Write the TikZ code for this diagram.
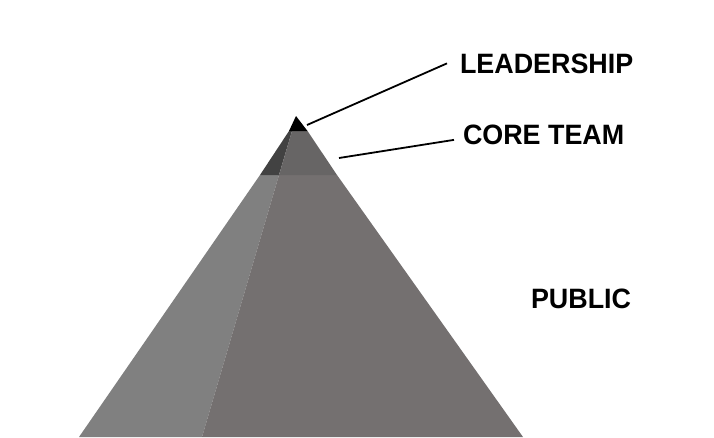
\documentclass[tikz,border=0pt]{standalone}
\usepackage{fontspec}
\setmainfont{Liberation Sans}[FakeStretch=0.96]
\definecolor{publicleft}{HTML}{808080}
\definecolor{publicright}{HTML}{747070}
\definecolor{coreleft}{HTML}{424242}
\definecolor{coreright}{HTML}{676565}
\begin{document}
\begin{tikzpicture}[x=1pt,y=-1pt,
		level/.style={font=\fontsize{28}{30}\selectfont\bfseries, anchor=base west, inner sep=0pt, outer sep=0pt},
		pointer/.style={line width=1.8pt}]
		\useasboundingbox (0,0) rectangle (714,437);
		% Draw the public layer
		\fill[publicleft] (260,175) -- (279,175) -- (202,437) -- (79,437) -- cycle;
		\fill[publicright] (279,175) -- (337,175) -- (523,437) -- (202,437) -- cycle;
		% Draw the core team layer
		\fill[coreleft] (289,131) -- (292,131) -- (279,175) -- (260,175) -- cycle;
		\fill[coreright] (292,131) -- (307.5,131) -- (337,175) -- (279,175) -- cycle;
		% Draw the leadership tip
		\fill[black] (296,116) -- (307.5,131) -- (289,131) -- cycle;

		% Labels
		\node[level] (leadership) at (460,73) {LEADERSHIP};
		\node[level] (coreteam) at (463,144) {CORE TEAM};
		\node[level] (public) at (531,308) {PUBLIC};

		% Pointers to the layers
		\coordinate (tip) at (307,125);
		\coordinate (core) at (339,158);
		\draw[pointer] (tip) -- ([xshift=-13pt]leadership.west);
		\draw[pointer] (core) -- ([shift={(-9,5.5)}]coreteam.west);
	\end{tikzpicture}
\end{document}
